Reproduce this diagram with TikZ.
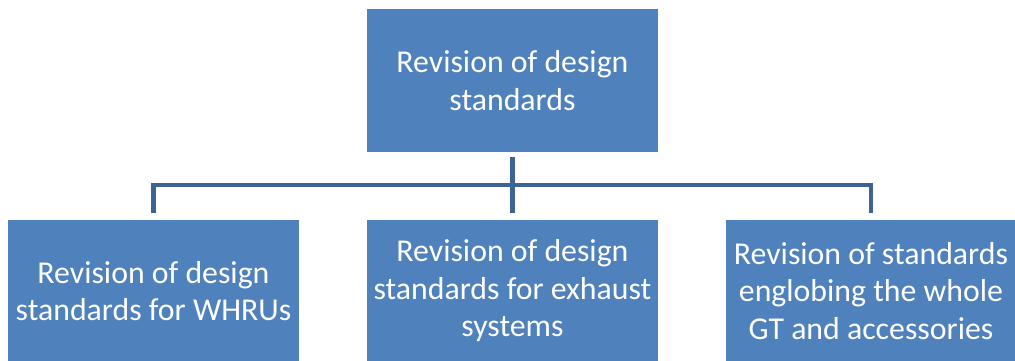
\documentclass[tikz,border=0pt]{standalone}
\usepackage{fontspec}
\setmainfont{Carlito}
\usetikzlibrary{calc,positioning}
\definecolor{boxblue}{HTML}{4F81BD}
\definecolor{linkblue}{HTML}{3D6396}
\tikzset{
  revbox/.style={rectangle, fill=boxblue, text=white, align=center,
    minimum width=291pt, minimum height=143pt, inner sep=0pt,
    font=\fontsize{31.8}{37.5}\selectfont},
  link/.style={draw=linkblue, line width=4.5pt, shorten <=5pt, shorten >=6pt}
}

\begin{document}
\begin{tikzpicture}[x=1pt,y=1pt]
    \useasboundingbox (0,0) rectangle (1015,-361);
    \node[revbox] (top) at (512.5,-80.5) {Revision of design\\standards};

    \node[revbox] (whru) at (153.5,-291) {Revision of design\\standards for WHRUs};
    \node[revbox] (exh) at (512.5,-291) {Revision of design\\standards for exhaust\\systems};
    \node[revbox] (gt) at (871,-291) {Revision of standards\\englobing the whole\\GT and accessories};

    \coordinate (bar) at (512.5,-185);
    \draw[link] (top) -- (exh);
    \draw[link, shorten <=6pt] (whru.north) |- (bar) -| (gt.north);
\end{tikzpicture}
\end{document}
